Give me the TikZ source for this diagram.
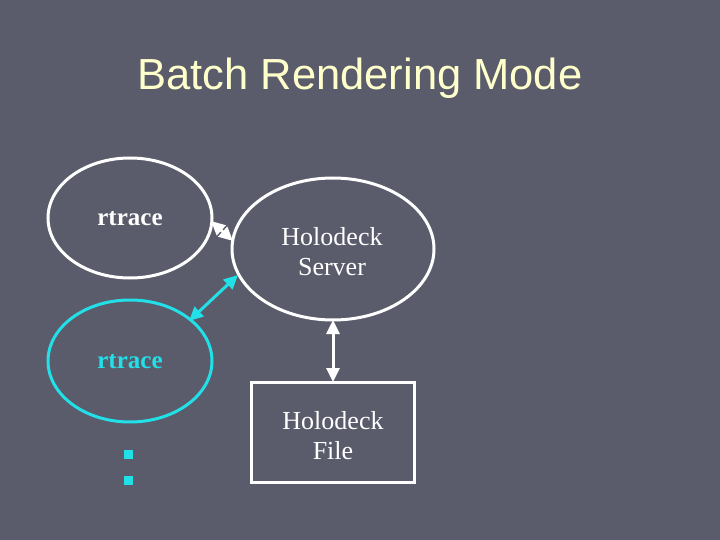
\documentclass[tikz,border=0pt]{standalone}
\usepackage{fontspec}
\setmainfont{Liberation Serif}
\newfontfamily\titlefont{Liberation Sans}
\usetikzlibrary{arrows.meta}
\definecolor{bg}{HTML}{5A5C6B}
\definecolor{titlecol}{HTML}{FFFFCC}
\definecolor{cyanc}{HTML}{22E0E8}
\tikzset{
  ell/.style={draw=white, line width=3pt},
  cell/.style={draw=cyanc, line width=3pt},
  tipx/.style={{Triangle[length=14pt,width=13pt]}-{Triangle[length=14pt,width=13pt]}},
  wlink/.style={draw=white, line width=3pt, tipx},
  clink/.style={draw=cyanc, line width=3pt, tipx},
  lbl/.style={text=white, font=\fontsize{26}{30}\selectfont, align=center},
}
\begin{document}
\begin{tikzpicture}[x=1pt, y=-1pt]
\fill[bg] (0,0) rectangle (720,540);
\useasboundingbox (0,0) rectangle (720,540);
\node[text=titlecol, font=\titlefont\fontsize{43.5}{50}\selectfont] (title) at (360,78) {Batch Rendering Mode};
% shapes
\draw[ell] (130,218) ellipse [x radius=82, y radius=60];
\draw[ell] (333,249) ellipse [x radius=101, y radius=71];
\draw[cell] (130,361) ellipse [x radius=82, y radius=61];
\node[draw=white, line width=3pt, minimum width=163pt, minimum height=100pt] (file) at (332.5,432) {};
% labels
\node[lbl, font=\bfseries\fontsize{25}{29}\selectfont] (r1t) at (130,219) {rtrace};
\node[lbl, text=cyanc, font=\bfseries\fontsize{25}{29}\selectfont] (r2t) at (130,362) {rtrace};
\node[lbl] (srvt) at (332,252) {Holodeck\\Server};
\node[lbl] (filet) at (333,436) {Holodeck\\File};
% connector endpoints
\coordinate (a1) at (211,221);
\coordinate (a2) at (233,241);
\coordinate (c1) at (189,321);
\coordinate (c2) at (238,275);
\coordinate (v1) at (333,320);
\coordinate (v2) at (333,382);
\draw[wlink] (a1) -- (a2);
\draw[clink] (c1) -- (c2);
\draw[wlink] (v1) -- (v2);
% bullets
\fill[cyanc] (124,450) rectangle (133,459);
\fill[cyanc] (124,476) rectangle (133,485);
\end{tikzpicture}
\end{document}
